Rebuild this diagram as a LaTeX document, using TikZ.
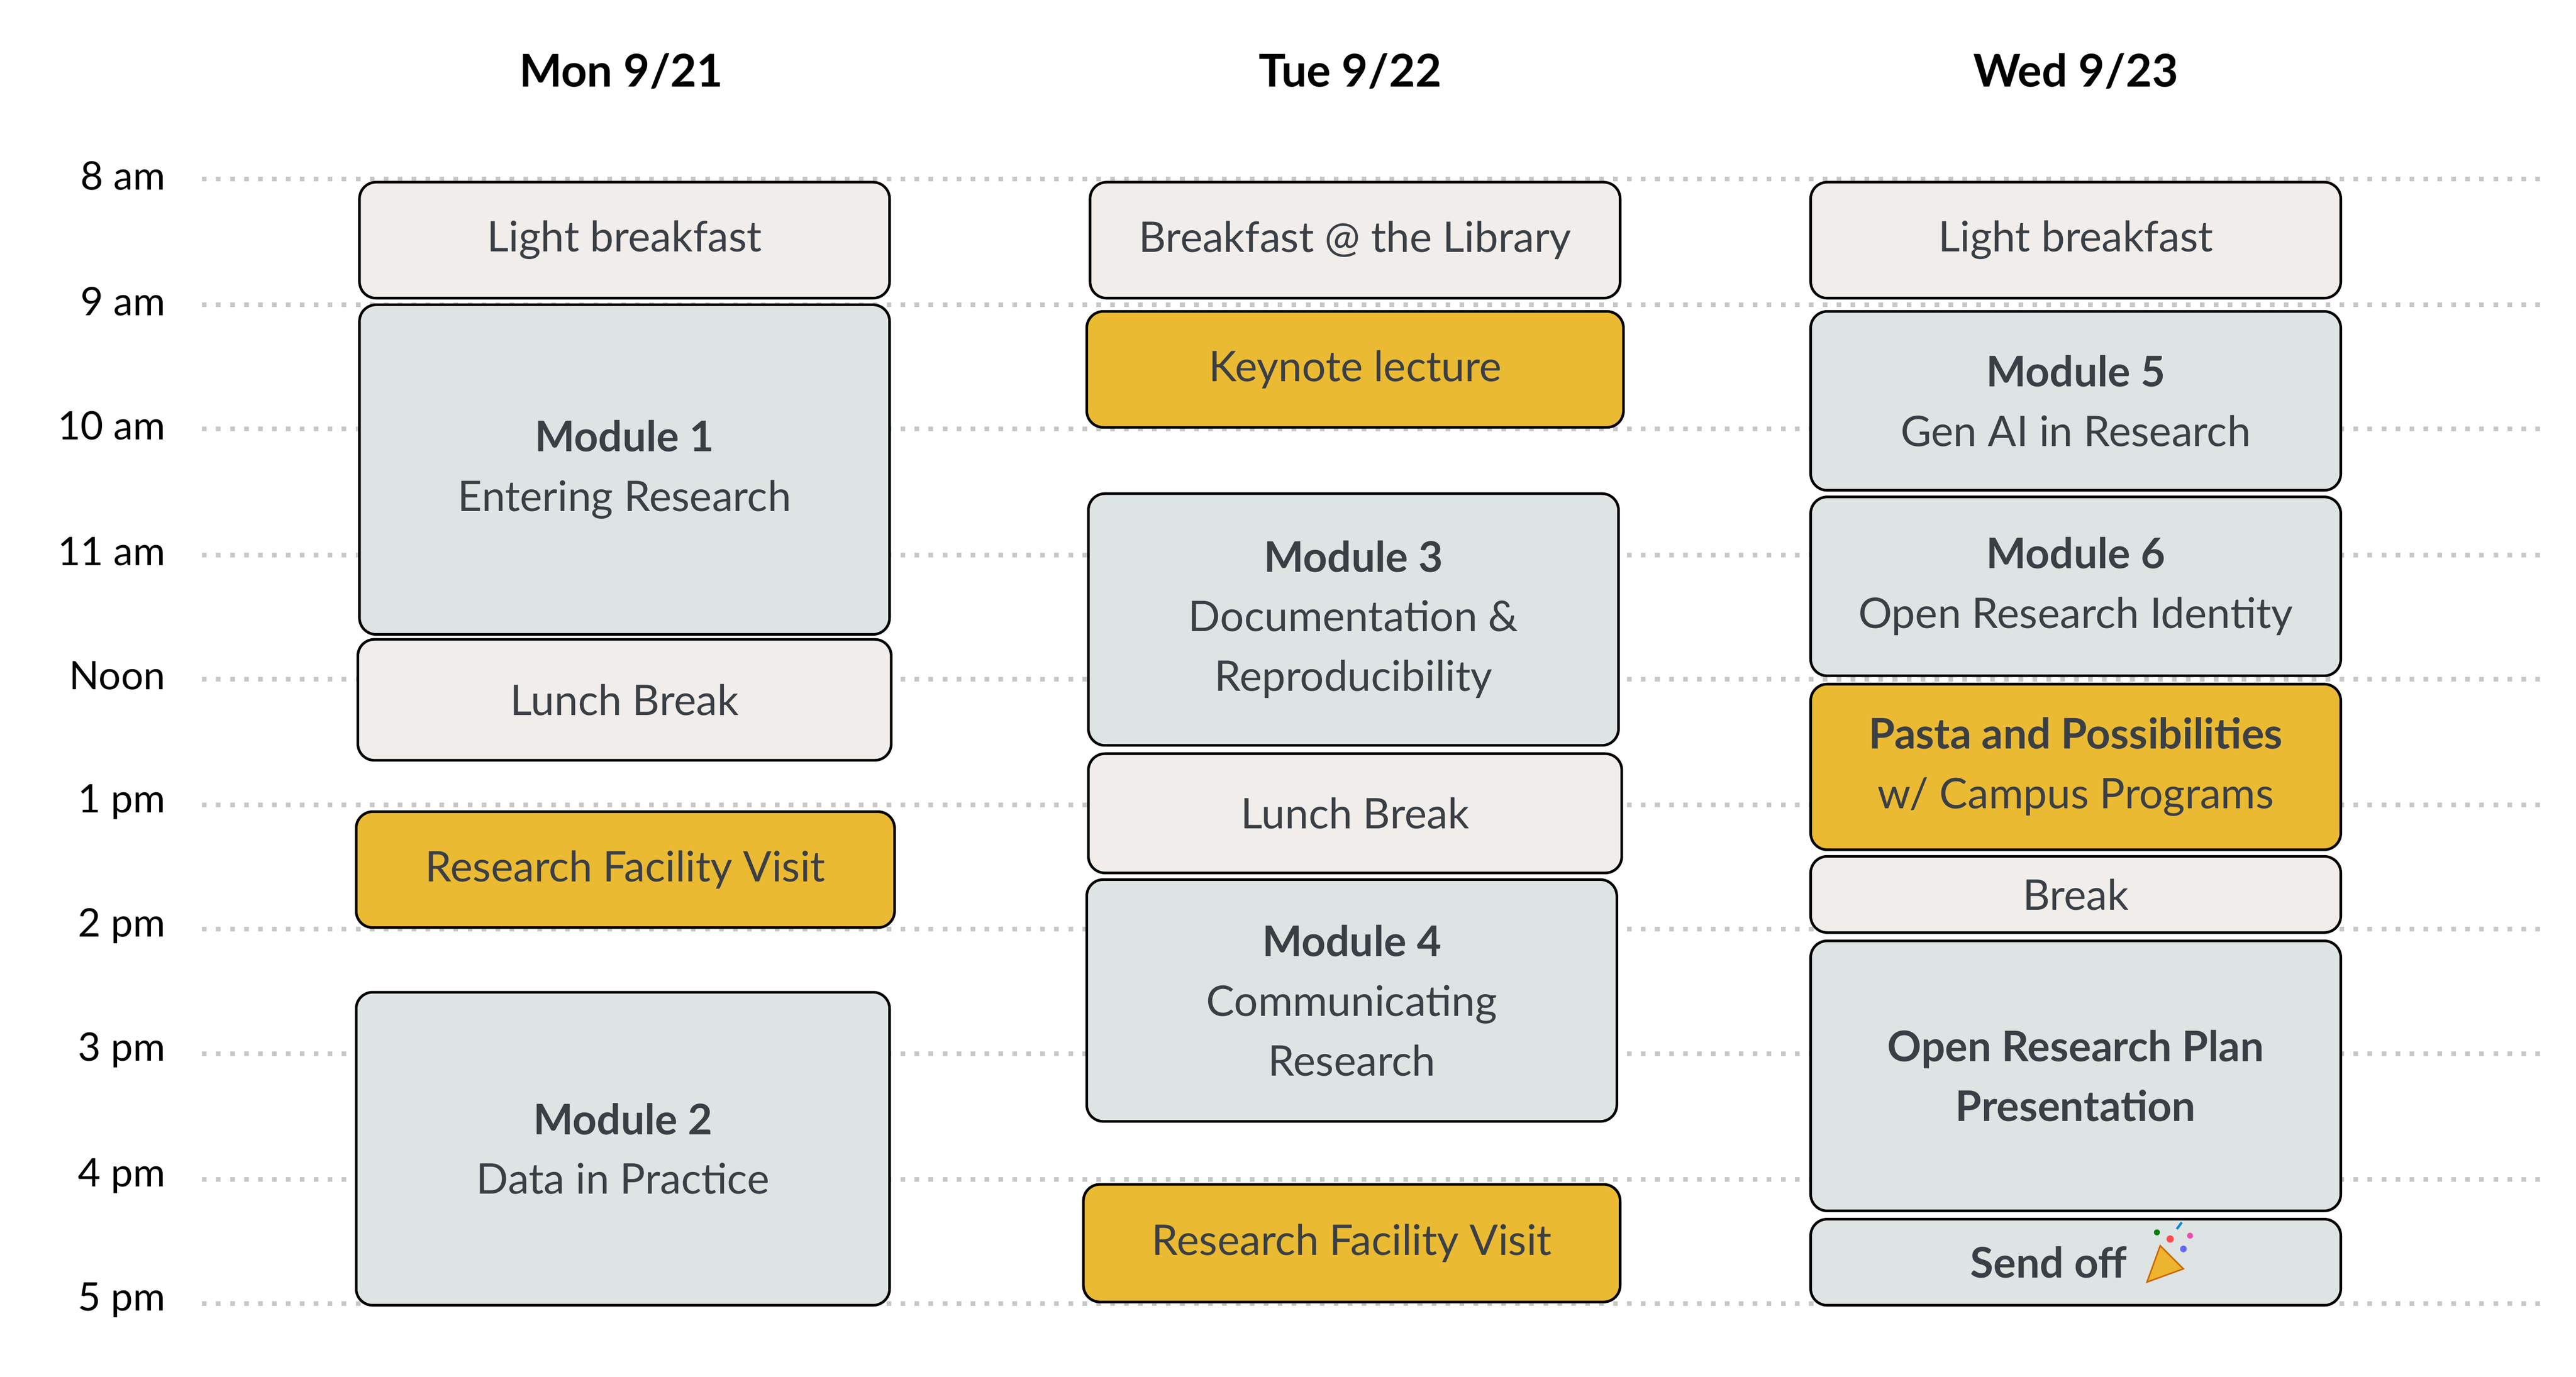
\documentclass[tikz,border=0pt]{standalone}
\usepackage{fontspec}
\setmainfont{Lato}
\definecolor{ink}{HTML}{3A3F45}
\definecolor{grayf}{HTML}{F0EDEA}
\definecolor{bluef}{HTML}{DDE4E3}
\definecolor{yellowf}{HTML}{EBBA33}
\definecolor{dotc}{HTML}{C8C8C8}
\begin{document}
\begin{tikzpicture}[x=0.02cm,y=-0.02cm,
  box/.style={draw=black,line width=0.9pt,rounded corners=0.2cm},
  gbox/.style={box,fill=grayf},
  bbox/.style={box,fill=bluef},
  ybox/.style={box,fill=yellowf},
  txt/.style={text=ink,align=center,font=\fontsize{14.5}{20.5}\selectfont},
  hdr/.style={font=\bfseries\fontsize{15.5}{19}\selectfont,text=black},
  tlab/.style={anchor=east,font=\fontsize{13.5}{16}\selectfont,text=black},
  grid/.style={dotc,line width=1.6pt,dash pattern=on 1.6pt off 3.2pt}]
\useasboundingbox (0,0) rectangle (1555,831);
% hour lines
\foreach \lab/\y [count=\i] in {8 am/108,9 am/184,10 am/259,11 am/335,Noon/410,1 pm/486,2 pm/561,3 pm/636,4 pm/712,5 pm/787}{
  \coordinate (ga\i) at (122,\y); \coordinate (gb\i) at (1535,\y);
  \draw[grid] (ga\i) -- (gb\i);
  \node[tlab] (t\i) at (106,\y-2) {\lab};
}
\node[hdr] (h1) at (375,43) {Mon 9/21};
\node[hdr] (h2) at (815,43) {Tue 9/22};
\node[hdr] (h3) at (1253,43) {Wed 9/23};
\newcommand{\ev}[7]{\draw[#6] (#2,#3) rectangle (#4,#5);
  \node[txt] (#1) at ({(#2+#4)/2},{(#3+#5)/2}) {#7};}
% Monday
\ev{m1}{217}{110}{537}{180}{gbox}{Light breakfast}
\ev{m2}{217}{184}{537}{383}{bbox}{\textbf{Module 1}\\Entering Research}
\ev{m3}{216}{386}{538}{459}{gbox}{Lunch Break}
\ev{m4}{215}{490}{540}{560}{ybox}{Research Facility Visit}
\ev{m5}{215}{599}{537}{788}{bbox}{\textbf{Module 2}\\Data in Practice}
% Tuesday
\ev{u1}{658}{110}{978}{180}{gbox}{Breakfast @ the Library}
\ev{u2}{656}{188}{980}{258}{ybox}{Keynote lecture}
\ev{u3}{657}{298}{977}{450}{bbox}{\textbf{Module 3}\\Documentation \&\\Reproducibility}
\ev{u4}{657}{455}{979}{527}{gbox}{Lunch Break}
\ev{u5}{656}{531}{976}{677}{bbox}{\textbf{Module 4}\\Communicating\\Research}
\ev{u6}{654}{715}{978}{786}{ybox}{Research Facility Visit}
% Wednesday
\ev{w1}{1093}{110}{1413}{180}{gbox}{Light breakfast}
\ev{w2}{1093}{188}{1413}{296}{bbox}{\textbf{Module 5}\\Gen AI in Research}
\ev{w3}{1093}{300}{1413}{408}{bbox}{\textbf{Module 6}\\Open Research Identity}
\ev{w4}{1093}{413}{1413}{513}{ybox}{\textbf{Pasta and Possibilities}\\w/ Campus Programs}
\ev{w5}{1093}{517}{1413}{563}{gbox}{Break}
\ev{w6}{1093}{568}{1413}{731}{bbox}{\textbf{Open Research Plan}\\\textbf{Presentation}}
\draw[bbox] (1093,736) rectangle (1413,788);
\node[txt,anchor=east] (w7) at (1290,762) {\textbf{Send off}};
% party popper
\fill[yellowf!90!orange] (1296,774) -- (1304,752) -- (1318,766) -- cycle;
\draw[orange!80!black,line width=0.5pt] (1296,774) -- (1304,752) -- (1318,766) -- cycle;
\fill[red!70] (1310,748) circle (2.2);
\fill[blue!60] (1318,754) circle (2);
\fill[green!50!black] (1302,744) circle (1.8);
\fill[magenta!70] (1322,746) circle (1.8);
\draw[cyan!70!blue,line width=0.8pt] (1314,742) -- (1317,738);
\end{tikzpicture}
\end{document}
